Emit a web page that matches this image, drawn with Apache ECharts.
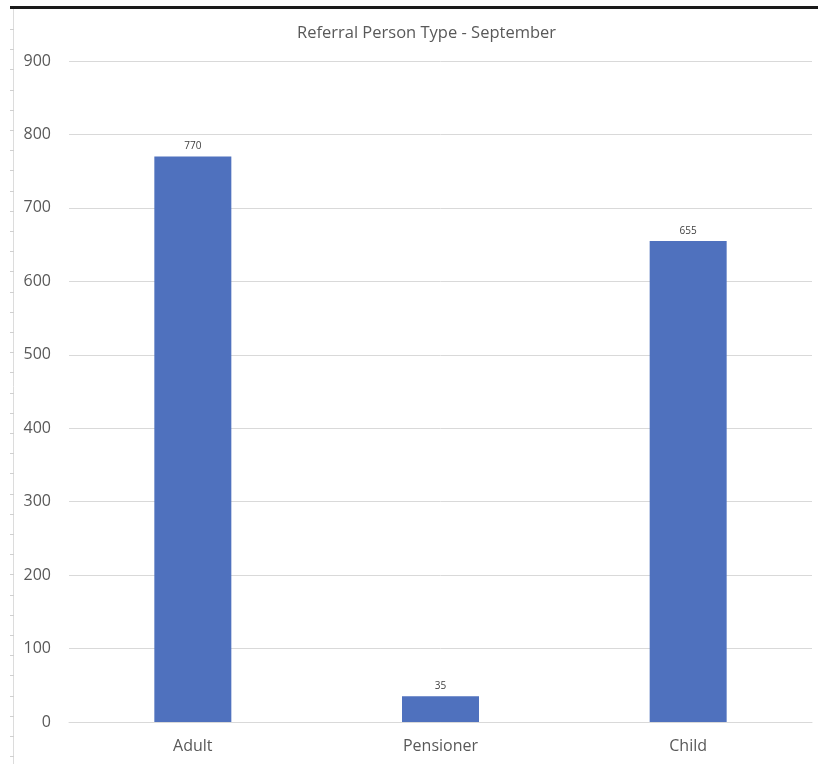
<!DOCTYPE html>
<html>
<head>
<meta charset="utf-8">
<script src="https://cdn.jsdelivr.net/npm/echarts@6/dist/echarts.min.js"></script>
<style>html,body{margin:0;padding:0;background:#fff}#c{width:818px;height:764px}</style>
</head>
<body>
<div id="c"></div>
<script>
const titleText = 'Referral Person Type - September';
const categories = ['Adult', 'Pensioner', 'Child'];
const values = [770, 35, 655];
const yTicks = [0, 100, 200, 300, 400, 500, 600, 700, 800, 900];

const chart = echarts.init(document.getElementById('c'), null, {renderer: 'canvas'});

const deco = [
  {type: 'rect', shape: {x: 10, y: 6, width: 808, height: 3}, style: {fill: '#1a1a1a'}, silent: true},
  {type: 'line', shape: {x1: 13.5, y1: 9, x2: 13.5, y2: 764}, style: {stroke: '#dcdcdc', lineWidth: 1}, silent: true}
];
for (let y = 29; y < 764; y += 20.2) {
  deco.push({type: 'line', shape: {x1: 10, y1: Math.round(y) + 0.5, x2: 14, y2: Math.round(y) + 0.5}, style: {stroke: '#d0d0d0', lineWidth: 1}, silent: true});
}

chart.setOption({
  animation: false,
  backgroundColor: '#ffffff',
  title: {
    text: titleText,
    left: 292,
    top: 20,
    textStyle: {fontFamily: 'Open Sans', fontSize: 16.5, fontWeight: 'normal', color: '#595959'}
  },
  grid: {left: 69, right: 6, top: 61, bottom: 42},
  xAxis: {
    type: 'category',
    data: categories,
    axisLine: {lineStyle: {color: '#d9d9d9', width: 1}},
    axisTick: {show: false},
    axisLabel: {fontFamily: 'Open Sans', fontSize: 16, color: '#595959', margin: 16}
  },
  yAxis: {
    type: 'value',
    min: yTicks[0],
    max: yTicks[yTicks.length - 1],
    interval: 100,
    axisLine: {show: false},
    axisTick: {show: false},
    splitLine: {lineStyle: {color: '#d9d9d9', width: 1}},
    axisLabel: {fontFamily: 'Open Sans', fontSize: 16, color: '#595959', margin: 18}
  },
  series: [{
    type: 'bar',
    data: values,
    barWidth: 77,
    itemStyle: {color: '#4f71be'},
    label: {show: true, position: 'top', distance: 5, fontFamily: 'Open Sans', fontSize: 10, color: '#404040'}
  }],
  graphic: deco
});
</script>
</body>
</html>
